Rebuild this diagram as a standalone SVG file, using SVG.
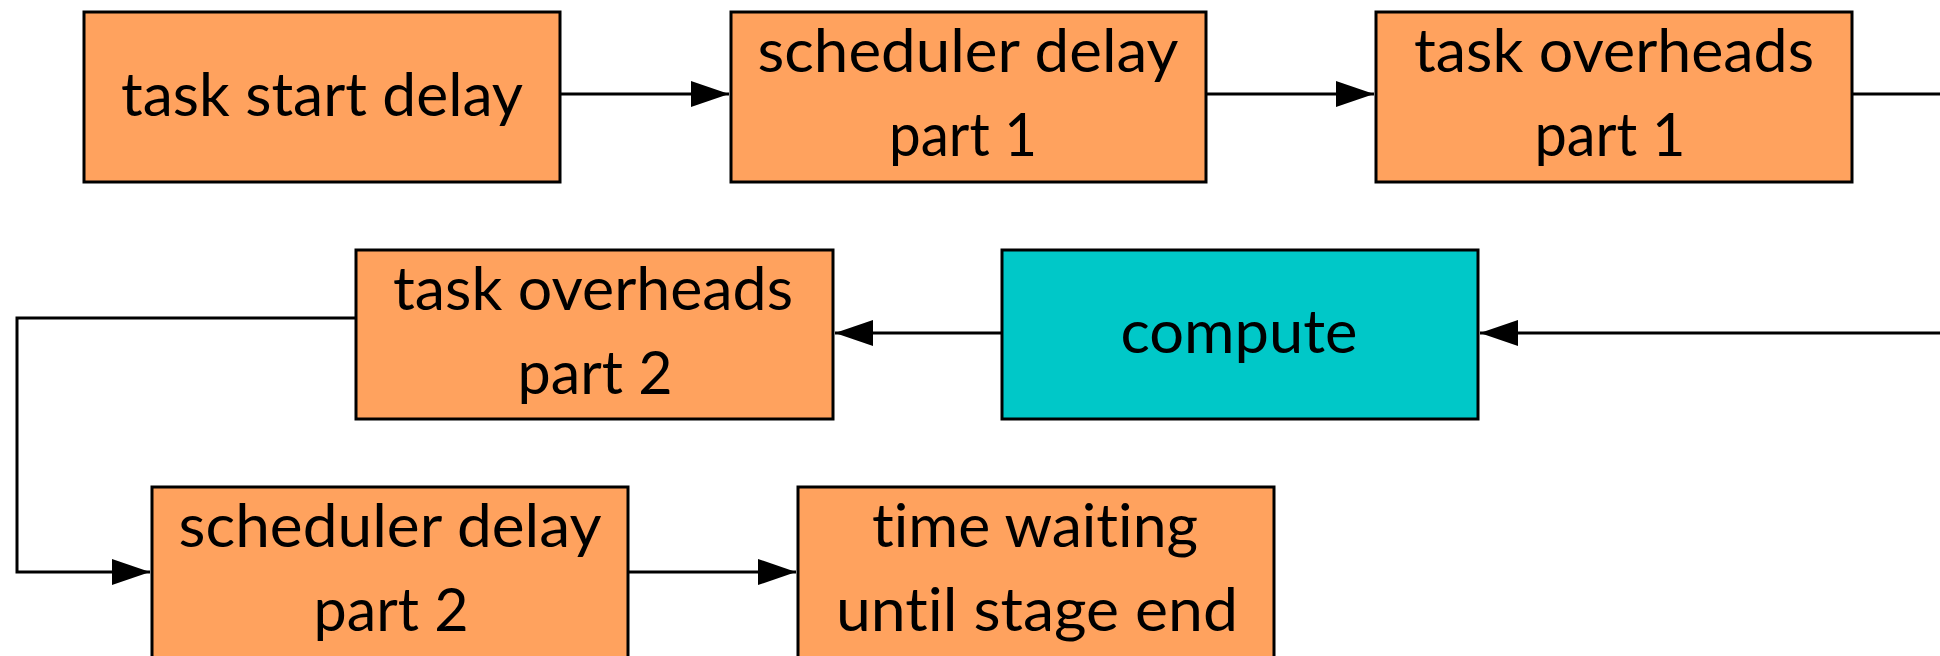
<svg xmlns="http://www.w3.org/2000/svg" width="1940" height="656" viewBox="0 0 1940 656">
  <style>
    .box { fill: #FFA25E; stroke: #000; stroke-width: 3; }
    .box.cpu { fill: #00C8C8; }
    .lbl { font-family: "Lato", "Liberation Sans", sans-serif; font-size: 60px; font-variant-ligatures: none; fill: #000; text-anchor: middle; }
    .conn { fill: none; stroke: #000; stroke-width: 3; }
  </style>
  <defs>
    <marker id="arrow" markerUnits="userSpaceOnUse" markerWidth="38" markerHeight="26" refX="38" refY="13" orient="auto">
      <path d="M0,0 L38,13 L0,26 Z" fill="#000"/>
    </marker>
  </defs>
  <rect width="1940" height="656" fill="#fff"/>

  <g id="connectors">
    <path class="conn" d="M560,94 H729" marker-end="url(#arrow)"/>
    <path class="conn" d="M1206,94 H1374" marker-end="url(#arrow)"/>
    <path class="conn" d="M1852,94 H1970 V333 H1480" marker-end="url(#arrow)"/>
    <path class="conn" d="M1002,333 H835" marker-end="url(#arrow)"/>
    <path class="conn" d="M356,318 H17 V572 H150" marker-end="url(#arrow)"/>
    <path class="conn" d="M628,572 H796" marker-end="url(#arrow)"/>
  </g>

  <g id="task-start-delay">
    <rect class="box" x="84" y="12" width="476" height="170"/>
    <text class="lbl" x="322" y="116" textLength="402" lengthAdjust="spacingAndGlyphs">task start delay</text>
  </g>

  <g id="scheduler-delay-1">
    <rect class="box" x="731" y="12" width="475" height="170"/>
    <text class="lbl" x="968" y="72" textLength="421" lengthAdjust="spacingAndGlyphs">scheduler delay</text>
    <text class="lbl" x="963" y="156" textLength="148" lengthAdjust="spacingAndGlyphs">part 1</text>
  </g>

  <g id="task-overheads-1">
    <rect class="box" x="1376" y="12" width="476" height="170"/>
    <text class="lbl" x="1614" y="72" textLength="400" lengthAdjust="spacingAndGlyphs">task overheads</text>
    <text class="lbl" x="1610" y="156" textLength="151" lengthAdjust="spacingAndGlyphs">part 1</text>
  </g>

  <g id="compute">
    <rect class="box cpu" x="1002" y="250" width="476" height="169"/>
    <text class="lbl" x="1239" y="353" textLength="237" lengthAdjust="spacingAndGlyphs">compute</text>
  </g>

  <g id="task-overheads-2">
    <rect class="box" x="356" y="250" width="477" height="169"/>
    <text class="lbl" x="593" y="310" textLength="400" lengthAdjust="spacingAndGlyphs">task overheads</text>
    <text class="lbl" x="595" y="394" textLength="155" lengthAdjust="spacingAndGlyphs">part 2</text>
  </g>

  <g id="scheduler-delay-2">
    <rect class="box" x="152" y="487" width="476" height="180"/>
    <text class="lbl" x="390" y="547" textLength="423" lengthAdjust="spacingAndGlyphs">scheduler delay</text>
    <text class="lbl" x="391" y="631" textLength="155" lengthAdjust="spacingAndGlyphs">part 2</text>
  </g>

  <g id="time-waiting">
    <rect class="box" x="798" y="487" width="476" height="180"/>
    <text class="lbl" x="1035" y="547" textLength="326" lengthAdjust="spacingAndGlyphs">time waiting</text>
    <text class="lbl" x="1037" y="631" textLength="402" lengthAdjust="spacingAndGlyphs">until stage end</text>
  </g>
</svg>
